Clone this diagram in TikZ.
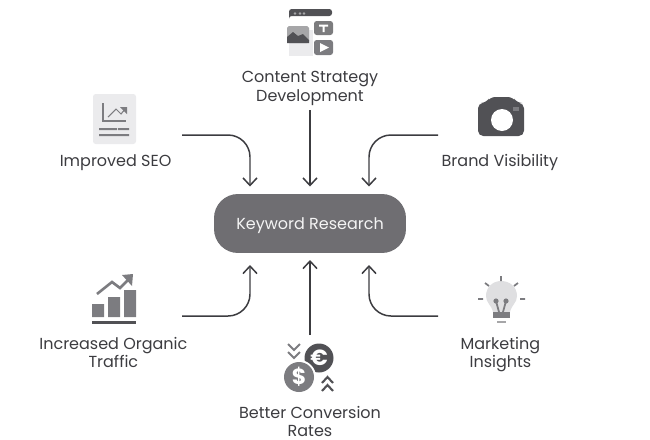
\documentclass[tikz,border=0pt]{standalone}
\usepackage{fontspec}
\setmainfont{Poppins}
\usepackage{xcolor}
\usetikzlibrary{arrows.meta, positioning}

\definecolor{inkdark}{HTML}{3C3C40}
\definecolor{pillgray}{HTML}{6F6E72}
\definecolor{icondark}{HTML}{515155}
\definecolor{iconmid}{HTML}{7C7C80}
\definecolor{iconsoft}{HTML}{A6A6A8}
\definecolor{iconpale}{HTML}{EBEBED}

\begin{document}
\begin{tikzpicture}[
    x=0.02cm, y=-0.02cm,
    pill/.style={rectangle, fill=pillgray, minimum width=3.84cm, minimum height=1.18cm, rounded corners=0.48cm, text depth=0pt, text=white!92!pillgray, font=\fontsize{9.1}{10.8}\selectfont},
    caption/.style={inner sep=0pt, align=center, text=inkdark, font=\fontsize{9.1}{10.6}\selectfont},
    arrow/.style={-{Straight Barb[length=0.15cm, width=0.28cm]}, line width=0.85pt, draw=inkdark},
    curvedarrow/.style={arrow, rounded corners=0.44cm},
    glyph/.style={inner sep=0pt, text=white, font=\fontsize{12.5}{12.5}\bfseries\selectfont}
]
\useasboundingbox (0,0) rectangle (650,440);

% --- Centre ---
\node[pill] (keyword) at (310,223.5) {Keyword Research};

% --- Captions around the centre ---
\node[caption, above=1.76cm of keyword] (content) {Content Strategy\\Development};
\node[caption, above left=0.46cm and 0.84cm of keyword] (seo) {Improved SEO};
\node[caption, above right=0.46cm and 0.7cm of keyword] (brand) {Brand Visibility};
\node[caption, below left=1.67cm and 0.52cm of keyword] (traffic) {Increased Organic\\Traffic};
\node[caption, below right=1.67cm and 1.08cm of keyword] (insights) {Marketing\\Insights};
\node[caption, below=3.05cm of keyword] (conversion) {Better Conversion\\Rates};

% --- Free ends of the connectors ---
\coordinate (seoout) at (182,135);
\coordinate (seotip) at (250,186.5);
\coordinate (brandout) at (438,135);
\coordinate (brandtip) at (369,186.5);
\coordinate (trafficout) at (182,316);
\coordinate (traffictip) at (250,265);
\coordinate (insightsout) at (438,316);
\coordinate (insightstip) at (369,265);
\coordinate (contentout) at (310,110);
\coordinate (contenttip) at (310,186.5);
\coordinate (conversionout) at (310,335);
\coordinate (conversiontip) at (310,260);

% --- Connectors ---
\draw[arrow] (contentout) -- (contenttip);
\draw[arrow] (conversionout) -- (conversiontip);
\draw[curvedarrow] (seoout) -| (seotip);
\draw[curvedarrow] (brandout) -| (brandtip);
\draw[curvedarrow] (trafficout) -| (traffictip);
\draw[curvedarrow] (insightsout) -| (insightstip);

% --- Icon: content ---
\fill[iconpale] (289,30) rectangle (313,56);
\fill[icondark, rounded corners=1.5pt] (289,19) -- (289,9) -- (332,9) -- (332,16) -- (289,16) -- cycle;
\foreach \dotx in {295,300,304} \fill[iconsoft] (\dotx,13.5) circle (1.3);
\fill[iconsoft, rounded corners=1pt] (287,26) rectangle (309,43);
\fill[icondark] (287,43) -- (287,37) -- (293,32) -- (298,36) -- (303,34) -- (309,40) -- (309,43) -- cycle;
\fill[iconsoft!75!black, rounded corners=1.5pt] (314,21) rectangle (333,35);
\fill[white] (319,24.5) rectangle (328,26.5) (322.5,24.5) rectangle (324.5,32);
\fill[iconmid, rounded corners=1.5pt] (314,40) rectangle (333,55);
\fill[white] (320,43) -- (329,47.5) -- (320,52) -- cycle;

% --- Icon: SEO ---
\fill[iconpale, rounded corners=1.5pt] (93,94) rectangle (136,144);
\draw[iconmid, line width=0.6pt] (103,103) -- (103,121) -- (126,121);
\draw[iconmid, line width=0.6pt] (108,117) -- (116,109) -- (121,114) -- (126,108);
\fill[iconmid] (127,107) -- (120,107) -- (127,114) -- cycle;
\fill[iconmid] (99,128) rectangle (117,130) (118,128) rectangle (129,130) (99,134) rectangle (129,136);

% --- Icon: camera ---
\fill[icondark, rounded corners=3pt] (478,103) -- (486,103) -- (490,97) -- (513,97) -- (517,103) -- (524,103) -- (524,136) -- (478,136) -- cycle;
\fill[white] (502,120) circle (11);
\fill[iconmid] (513,107) rectangle (519,111);

% --- Icon: traffic ---
\fill[iconmid] (92,304) rectangle (104,317) (108,297) rectangle (120,317) (124,290) rectangle (136,317);
\fill[icondark] (92,321) rectangle (136,324);
\draw[iconmid, line width=1.5pt] (97,294) -- (112,282) -- (120,288) -- (130,278);
\fill[iconmid] (133,274) -- (122,275) -- (132,286) -- cycle;

% --- Icon: insights ---
\fill[iconpale!95!black] (493,312) .. controls (491,304) and (486,303) .. (486,296) .. controls (486,287) and (493,281) .. (501,281) .. controls (510,281) and (517,287) .. (517,296) .. controls (517,303) and (512,304) .. (510,312) -- cycle;
\draw[iconmid, line width=1pt] (501,276) -- (501,281) (485,283) -- (489,286) (518,283) -- (514,286) (478,299) -- (483,299) (520,299) -- (525,299);
\fill[iconmid] (496,301) circle (2.6) (506,301) circle (2.6);
\draw[iconmid, line width=1pt] (496,301) -- (499,312) (506,301) -- (503,312);
\fill[iconmid] (493,312) rectangle (510,318);
\fill[iconsoft] (497,321) rectangle (506,323);

% --- Icon: conversion ---
\fill[icondark] (319,358) circle (14.5);
\fill[white] (299,377) circle (17);
\fill[iconmid] (299,377) circle (15);
\node[glyph] (euro) at (319,358) {€};
\node[glyph] (dollar) at (299,377) {\$};
\draw[iconmid, line width=1.2pt] (288,344) -- (294,350) -- (300,344) (288,352) -- (294,358) -- (300,352);
\draw[icondark, line width=1.2pt] (322,383) -- (327.5,377) -- (333,383) (322,391) -- (327.5,385) -- (333,391);

\end{tikzpicture}
\end{document}
